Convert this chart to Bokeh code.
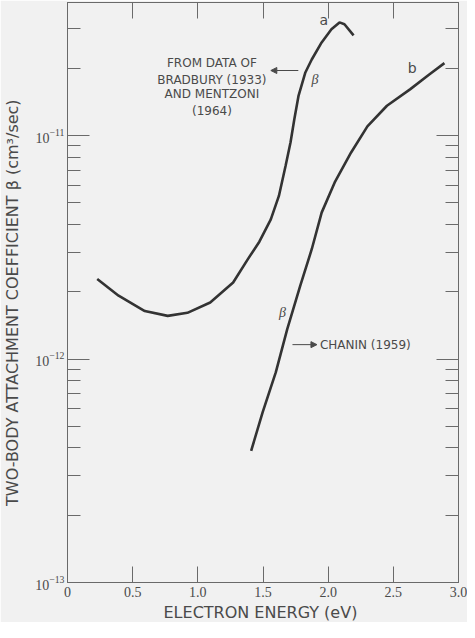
from bokeh.plotting import figure
from bokeh.models import (LinearAxis, LogAxis, FixedTicker, Range1d, Arrow,
                          NormalHead, Label, LogTickFormatter, Title)
from bokeh.embed import file_html
from bokeh.resources import INLINE

# Curve a: Bradbury (1933) and Mentzoni (1964)
energy_a = [0.228, 0.392, 0.593, 0.769, 0.92, 1.095, 1.271, 1.384, 1.472, 1.560,
            1.622, 1.673, 1.711, 1.740, 1.773, 1.824, 1.874, 1.950, 2.025, 2.087,
            2.125, 2.195]
beta_a = [2.28e-12, 1.92e-12, 1.64e-12, 1.56e-12, 1.61e-12, 1.79e-12, 2.20e-12,
          2.80e-12, 3.35e-12, 4.22e-12, 5.37e-12, 7.31e-12, 9.31e-12, 1.18e-11,
          1.51e-11, 1.91e-11, 2.19e-11, 2.61e-11, 2.99e-11, 3.21e-11, 3.15e-11,
          2.81e-11]

# Curve b: Chanin (1959)
energy_b = [1.409, 1.497, 1.598, 1.686, 1.786, 1.874, 1.950, 2.050, 2.176, 2.301,
            2.451, 2.628, 2.778, 2.892]
beta_b = [3.88e-13, 5.77e-13, 8.71e-13, 1.36e-12, 2.13e-12, 3.10e-12, 4.52e-12,
          6.17e-12, 8.40e-12, 1.10e-11, 1.36e-11, 1.61e-11, 1.88e-11, 2.11e-11]

x_ticks = [0, 0.5, 1.0, 1.5, 2.0, 2.5, 3.0]
x_tick_labels = ["0", "0.5", "1.0", "1.5", "2.0", "2.5", "3.0"]
y_major = [1e-13, 1e-12, 1e-11]
y_minor = [m * d for d in (1e-13, 1e-12, 1e-11) for m in range(2, 10)]

BG = "#f1f1f1"
AX = "#6a6a6a"
INK = "#333333"
TXT = "#4a4a4a"

p = figure(width=467, height=622, x_range=Range1d(0, 3.0),
           y_range=Range1d(1e-13, 3.94e-11), y_axis_type="log",
           output_backend="svg", toolbar_location=None,
           min_border_left=60, min_border_right=9, min_border_top=2,
           min_border_bottom=40)
p.background_fill_color = BG
p.border_fill_color = BG
p.outline_line_color = AX
p.xgrid.visible = False
p.ygrid.visible = False

xt = FixedTicker(ticks=x_ticks)
yt = FixedTicker(ticks=y_major, minor_ticks=y_minor)

def style_x(ax, labels=True):
    ax.ticker = xt
    ax.major_label_overrides = {t: l for t, l in zip(x_ticks, x_tick_labels)}
    ax.axis_line_color = AX
    ax.major_tick_line_color = AX
    ax.major_tick_in = 16
    ax.major_tick_out = 0
    ax.minor_tick_line_color = None
    ax.major_label_text_font = "Liberation Serif"
    ax.major_label_text_color = TXT
    if labels:
        ax.major_label_text_font_size = "14px"
        ax.major_label_standoff = 4
    else:
        ax.major_label_text_font_size = "1px"
        ax.major_label_text_alpha = 0
        ax.major_label_standoff = 0

def style_y(ax, labels=True):
    ax.ticker = yt
    ax.axis_line_color = AX
    ax.major_tick_line_color = AX
    ax.minor_tick_line_color = AX
    ax.major_tick_in = 22
    ax.major_tick_out = 0
    ax.minor_tick_in = 13
    ax.minor_tick_out = 0
    ax.major_label_text_font = "Liberation Serif"
    ax.major_label_text_color = TXT
    if labels:
        ax.formatter = LogTickFormatter()
        ax.major_label_text_font_size = "14px"
        ax.major_label_standoff = 3
    else:
        ax.major_label_overrides = {t: " " for t in y_major}
        ax.major_label_text_font_size = "1px"
        ax.major_label_text_alpha = 0
        ax.major_label_standoff = 0

style_x(p.xaxis[0])
style_y(p.yaxis[0])

p.yaxis[0].axis_label = "TWO-BODY  ATTACHMENT  COEFFICIENT  \u03b2  (cm\u00b3/sec)"
p.yaxis[0].axis_label_text_font = "DejaVu Sans"
p.yaxis[0].axis_label_text_font_size = "16px"
p.yaxis[0].axis_label_text_font_style = "normal"
p.yaxis[0].axis_label_text_color = TXT
p.yaxis[0].axis_label_standoff = 10

top = LinearAxis()
style_x(top, labels=False)
p.add_layout(top, "above")
right = LogAxis()
style_y(right, labels=False)
p.add_layout(right, "right")

# x-axis title, right of the frame centre as in the original
p.add_layout(Title(text="ELECTRON  ENERGY  (eV)", align="left", offset=96,
                   text_font="DejaVu Sans", text_font_size="16px",
                   text_font_style="normal", text_color=TXT, standoff=2),
             "below")

p.line(energy_a, beta_a, line_color=INK, line_width=2.6)
p.line(energy_b, beta_b, line_color=INK, line_width=2.6)

def lab(x, y, t, size="12px", font="DejaVu Sans", style="normal", align="center"):
    p.add_layout(Label(x=x, y=y, text=t, text_font=font, text_font_size=size,
                       text_font_style=style, text_color=TXT, text_align=align,
                       text_baseline="middle"))

lab(1.967, 3.30e-11, "a", size="14px")
lab(2.645, 2.01e-11, "b", size="14px")
lab(1.899, 1.78e-11, "\u03b2", size="14px", font="Liberation Serif", style="italic")
lab(1.65, 1.61e-12, "\u03b2", size="14px", font="Liberation Serif", style="italic")

note_lines = ["FROM DATA OF", "BRADBURY (1933)", "AND MENTZONI", "(1964)"]
note_y = [2.12e-11, 1.78e-11, 1.53e-11, 1.29e-11]
for t, yy in zip(note_lines, note_y):
    lab(1.108, yy, t)
lab(1.937, 1.16e-12, "CHANIN (1959)", align="left")

p.add_layout(Arrow(x_start=1.771, y_start=1.955e-11, x_end=1.560, y_end=1.955e-11,
                   line_color=TXT, line_width=1,
                   end=NormalHead(size=6, fill_color=TXT, line_color=TXT)))
p.add_layout(Arrow(x_start=1.726, y_start=1.16e-12, x_end=1.914, y_end=1.16e-12,
                   line_color=TXT, line_width=1,
                   end=NormalHead(size=6, fill_color=TXT, line_color=TXT)))

open("out.html", "w").write(file_html(p, INLINE))
